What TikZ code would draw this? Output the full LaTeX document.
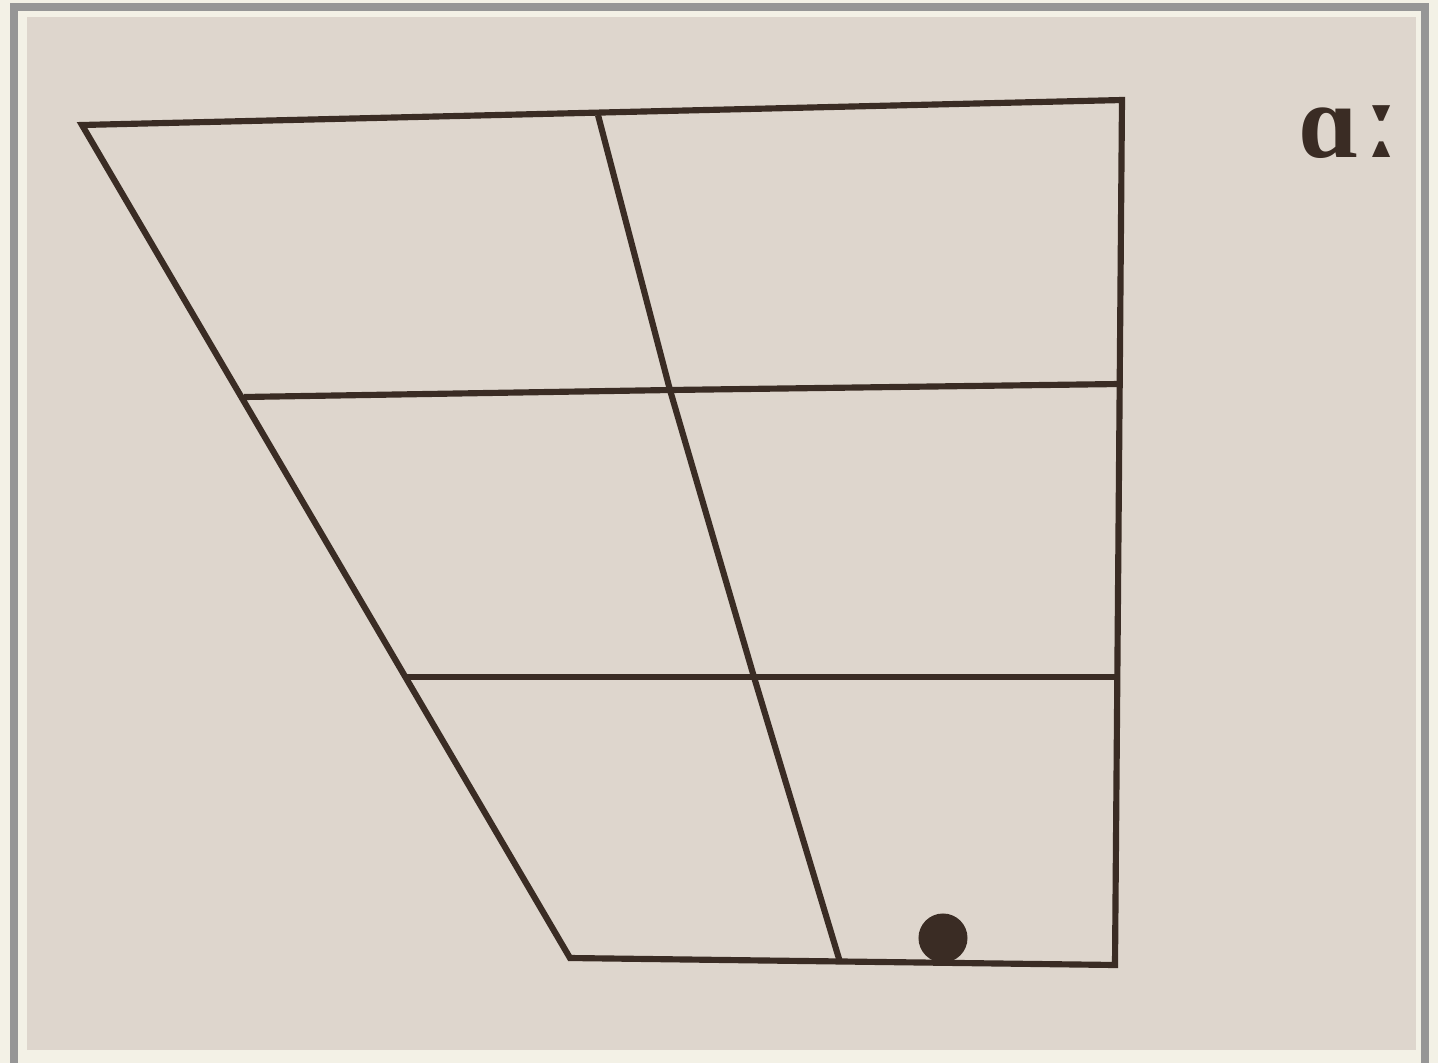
\documentclass[tikz,border=0pt]{standalone}
\usepackage{fontspec}
\newfontfamily\ipafont{Liberation Serif}
\newfontfamily\markfont{DejaVu Serif}
\usepackage{tikz}

\begin{document}
\begin{tikzpicture}[x=0.01cm, y=-0.01cm]
  \definecolor{pagebg}{RGB}{243,241,230}
  \definecolor{paper}{RGB}{222,214,205}
  \definecolor{frameline}{RGB}{150,150,150}
  \definecolor{ink}{RGB}{58,44,36}
  \tikzset{grid line/.style={ink, line width=1.75pt, line join=miter}}

  %--- page and photo frame ---
  \useasboundingbox (0,0) rectangle (1438,1063);
  \fill[pagebg] (0,0) rectangle (1438,1063);
  \draw[frameline, line width=2pt] (14,1075) -- (14,7) -- (1425,7) -- (1425,1075);
  \fill[paper] (27,17) rectangle (1416,1050);

  %--- corners of the quadrilateral ---
  \coordinate (tl) at (82,125);
  \coordinate (tr) at (1122,100);
  \coordinate (br) at (1115,965);
  \coordinate (bl) at (570,958);

  %--- inner points ---
  \coordinate (tm) at (598,115);
  \coordinate (bm) at (840,962);
  \coordinate (l1) at (244,397);
  \coordinate (m1) at (670,390);
  \coordinate (r1) at (1119,384);
  \coordinate (l2) at (407,677);
  \coordinate (m2) at (754,677);
  \coordinate (r2) at (1116,677);

  %--- outline ---
  \draw[grid line] (tl) -- (tr) -- (br) -- (bl) -- cycle;

  %--- grid ---
  \draw[grid line] (tm) -- (m1) -- (m2) -- (bm);
  \draw[grid line] (l1) -- (m1) -- (r1);
  \draw[grid line] (l2) -- (m2) -- (r2);

  %--- vowel dot ---
  \fill[ink] (943,938) circle[radius=0.245cm];

  %--- symbol ---
  \node[ink, inner sep=0pt, font=\bfseries\fontsize{30}{30}\selectfont] (vowel) at (1351,132)
    {{\ipafont ɑ}{\markfont\fontsize{34}{34}\selectfont ː}};

\end{tikzpicture}
\end{document}
